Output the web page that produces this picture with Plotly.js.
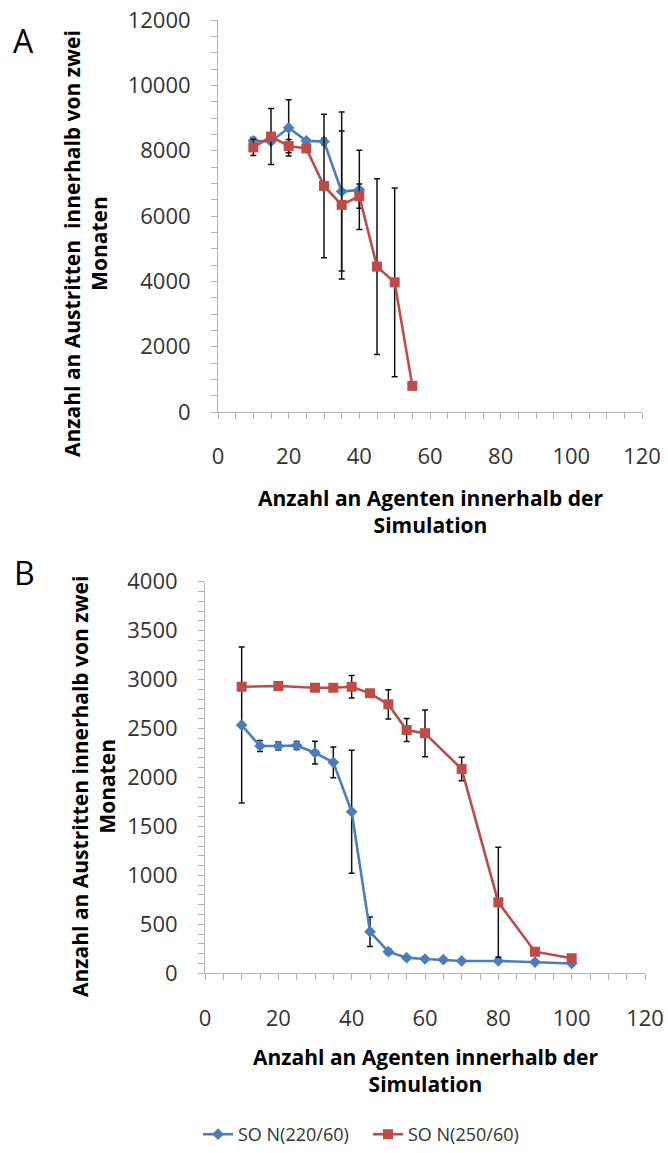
<!DOCTYPE html>
<html>
<head>
<meta charset="utf-8">
<script src="https://cdn.plot.ly/plotly-3.0.1.min.js"></script>
<style>html,body{margin:0;padding:0;background:#fff;}#chart{width:668px;height:1153px;}</style>
</head>
<body>
<div id="chart"></div>
<script>
// ---------- Data ----------
const seriesNames = ['SO N(220/60)', 'SO N(250/60)'];

// Panel A
const xA_blue = [10, 15, 20, 25, 30, 35, 40];
const yA_blue = [8300, 8280, 8700, 8300, 8280, 6750, 6800];
const eA_blue = [100, 60, 862, 60, 100, 2430, 1214];

const xA_red = [10, 15, 20, 25, 30, 35, 40, 45, 50, 55];
const yA_red = [8100, 8430, 8140, 8070, 6920, 6340, 6610, 4450, 3970, 800];
const eA_red = [250, 857, 200, 0, 2195, 2265, 370, 2690, 2888, 0];

// Panel B
const xB_blue = [10, 15, 20, 25, 30, 35, 40, 45, 50, 55, 60, 65, 70, 80, 90, 100];
const yB_blue = [2536, 2322, 2322, 2327, 2253, 2155, 1650, 425, 221, 160, 146, 139, 126, 126, 115, 100];
const eB_blue = [796, 56, 40, 40, 116, 157, 628, 150, 30, 20, 20, 15, 15, 15, 15, 15];

const xB_red = [10, 20, 30, 35, 40, 45, 50, 55, 60, 70, 80, 90, 100];
const yB_red = [2927, 2934, 2917, 2917, 2927, 2860, 2747, 2485, 2451, 2086, 725, 221, 153];
const eB_red = [0, 0, 0, 0, 114, 0, 150, 118, 238, 120, 562, 0, 0];

const xTitle = 'Anzahl an Agenten innerhalb der<br>Simulation';
const yTitleA = 'Anzahl an Austritten\u00a0 innerhalb von zwei<br>Monaten';
const yTitleB = 'Anzahl an Austritten innerhalb von zwei<br>Monaten';

// ---------- Styles ----------
const W = 668, H = 1153;
const BLUE = '#4a7ebb', RED = '#be4b48';
const AX = '#b3b3b3';
const FONT = '"Open Sans", Lato, sans-serif';
function xd(a, b) { return [a / W, b / W]; }
function yd(top, bottom) { return [(H - bottom) / H, (H - top) / H]; }
function px(x) { return x / W; }
function py(y) { return (H - y) / H; }

function errBar(arr) {
  return { type: 'data', array: arr, visible: true, color: '#111', thickness: 1.5, width: 3 };
}
function blueTrace(x, y, e, xa, ya, show) {
  return {
    x: x, y: y, xaxis: xa, yaxis: ya, type: 'scatter', mode: 'lines+markers',
    name: seriesNames[0], showlegend: show, legendgroup: 'b',
    line: { color: BLUE, width: 2.6 },
    marker: { symbol: 'diamond', size: 9, color: BLUE },
    error_y: errBar(e)
  };
}
function redTrace(x, y, e, xa, ya, show) {
  return {
    x: x, y: y, xaxis: xa, yaxis: ya, type: 'scatter', mode: 'lines+markers',
    name: seriesNames[1], showlegend: show, legendgroup: 'r',
    line: { color: RED, width: 2.6 },
    marker: { symbol: 'square', size: 10, color: RED },
    error_y: errBar(e)
  };
}

const traces = [
  blueTrace(xA_blue, yA_blue, eA_blue, 'x', 'y', true),
  redTrace(xA_red, yA_red, eA_red, 'x', 'y', true),
  blueTrace(xB_blue, yB_blue, eB_blue, 'x2', 'y2', false),
  redTrace(xB_red, yB_red, eB_red, 'x2', 'y2', false)
];

function xAxis(domain, anchor) {
  return {
    domain: domain, anchor: anchor, range: [0, 120], tick0: 0, dtick: 20,
    ticks: 'outside', ticklen: 6, tickcolor: AX, tickwidth: 1,
    minor: { dtick: 5, ticks: 'outside', ticklen: 6, tickcolor: AX, tickwidth: 1, showgrid: false },
    showline: true, linecolor: AX, linewidth: 1, showgrid: false, zeroline: false,
    tickfont: { family: FONT, size: 22, color: '#333' }, ticklabelstandoff: 19,
    fixedrange: true
  };
}
function yAxis(domain, anchor, max, major, minor) {
  return {
    domain: domain, anchor: anchor, range: [0, max], tick0: 0, dtick: major,
    tickformat: 'd',
    ticks: 'outside', ticklen: 6, tickcolor: AX, tickwidth: 1,
    minor: { dtick: minor, ticks: 'outside', ticklen: 6, tickcolor: AX, tickwidth: 1, showgrid: false },
    showline: true, linecolor: AX, linewidth: 1, showgrid: false, zeroline: false,
    tickfont: { family: FONT, size: 22, color: '#333' }, ticklabelstandoff: 16,
    fixedrange: true
  };
}

const titleFont = { family: FONT, size: 21, color: '#000', weight: 'bold' };

const layout = {
  width: W, height: H,
  margin: { l: 0, r: 0, t: 0, b: 0 },
  paper_bgcolor: '#fff', plot_bgcolor: '#fff',
  showlegend: true,
  xaxis: xAxis(xd(218, 642), 'y'),
  yaxis: yAxis(yd(20, 412), 'x', 12000, 2000, 500),
  xaxis2: xAxis(xd(205, 645), 'y2'),
  yaxis2: yAxis(yd(581.7, 973.3), 'x2', 4000, 500, 100),
  legend: {
    orientation: 'h', x: 368 / W, xanchor: 'center', y: 0, yanchor: 'bottom',
    entrywidth: 125,
    font: { family: FONT, size: 18, color: '#333' }, bgcolor: 'rgba(0,0,0,0)'
  },
  annotations: [
    { text: 'A', xref: 'paper', yref: 'paper', x: px(23), y: py(40), xanchor: 'center', yanchor: 'middle',
      showarrow: false, font: { family: FONT, size: 32, color: '#000' } },
    { text: 'B', xref: 'paper', yref: 'paper', x: px(24), y: py(572), xanchor: 'center', yanchor: 'middle',
      showarrow: false, font: { family: FONT, size: 32, color: '#000' } },
    { text: xTitle, xref: 'paper', yref: 'paper', x: px(430), y: py(511), xanchor: 'center', yanchor: 'middle',
      showarrow: false, font: titleFont },
    { text: xTitle, xref: 'paper', yref: 'paper', x: px(425), y: py(1070), xanchor: 'center', yanchor: 'middle',
      showarrow: false, font: titleFont },
    { text: yTitleA, xref: 'paper', yref: 'paper', x: px(85), y: py(244), xanchor: 'center', yanchor: 'middle',
      textangle: -90, showarrow: false, font: titleFont },
    { text: yTitleB, xref: 'paper', yref: 'paper', x: px(93), y: py(786), xanchor: 'center', yanchor: 'middle',
      textangle: -90, showarrow: false, font: titleFont }
  ]
};

Plotly.newPlot('chart', traces, layout, { staticPlot: true, displayModeBar: false });
</script>
</body>
</html>
